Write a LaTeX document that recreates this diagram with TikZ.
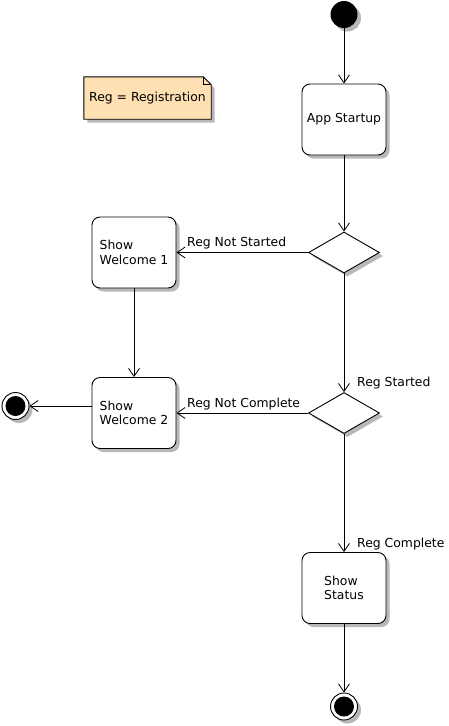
\documentclass[tikz,border=0pt]{standalone}
\usepackage{fontspec}
\setmainfont{DejaVu Sans}
\usetikzlibrary{arrows.meta,shapes.geometric,shadows}
\definecolor{notefill}{RGB}{254,224,178}
\tikzset{
  shad/.style={drop shadow={shadow xshift=3.5pt,shadow yshift=-3.5pt,fill=black!28,opacity=1}},
  txt/.style={font=\fontsize{12.4}{14.5}\selectfont},
  act/.style={draw,line width=0.9pt,rounded corners=8pt,fill=white,minimum width=84pt,minimum height=71pt,inner sep=0pt,align=left,txt,shad},
  dec/.style={draw,line width=0.9pt,diamond,aspect=1.73,minimum width=71pt,minimum height=41pt,inner sep=0pt,fill=white,shad},
  startst/.style={circle,fill=black,minimum size=27pt,inner sep=0pt,shad},
  endst/.style={circle,draw,line width=0.9pt,fill=white,minimum size=27pt,inner sep=0pt,shad,
     path picture={\fill[black] (path picture bounding box.center) circle (10pt);}},
  lbl/.style={anchor=base west,inner sep=0pt,txt},
  flow/.style={draw,line width=0.8pt,-{Straight Barb[length=8pt,width=11pt,line width=0.8pt]}},
}
\begin{document}
\begin{tikzpicture}[x=1pt,y=-1pt]
\useasboundingbox (0,0) rectangle (448,726);
% note
\node[inner sep=0pt,minimum width=127pt,minimum height=42pt] (note) at (147.5,98) {};
\fill[black!28] ([xshift=3.5pt,yshift=-3.5pt]note.north west) -- ([xshift=-4.5pt,yshift=-3.5pt]note.north east) -- ([xshift=3.5pt,yshift=-11.5pt]note.north east) -- ([xshift=3.5pt,yshift=-3.5pt]note.south east) -- ([xshift=3.5pt,yshift=-3.5pt]note.south west) -- cycle;
\filldraw[line width=0.9pt,fill=notefill] (note.north west) -- ([xshift=-8pt]note.north east) -- ([yshift=-8pt]note.north east) -- (note.south east) -- (note.south west) -- cycle;
\draw[line width=0.7pt] ([xshift=-8pt]note.north east) -- ([xshift=-8pt,yshift=-8pt]note.north east) -- ([yshift=-8pt]note.north east);
\node[inner sep=0pt,txt] (notetext) at (note.center) {Reg = Registration};

\node[startst] (start) at (344,14.5) {};
\node[act,align=center] (app) at (344,119.5) {App Startup};
\node[dec] (d1) at (344,252.5) {};
\node[act] (w1) at (134,252.5) {Show\\Welcome 1};
\node[dec] (d2) at (344,413) {};
\node[act] (w2) at (134,413) {Show\\Welcome 2};
\node[endst] (endL) at (15.5,406) {};
\node[act] (status) at (344,588) {Show\\Status};
\node[endst] (endB) at (344,706.5) {};

\draw[flow] (start) -- (app);
\draw[flow] (app) -- (d1);
\draw[flow] (d1.west) -- (w1.east);
\draw[flow] (w1) -- (w2);
\draw[flow] (d1.south) -- (d2.north);
\draw[flow] (d2.west) -- (w2.east);
\draw[flow] (endL -| w2.west) -- (endL.east);
\draw[flow] (d2.south) -- (status.north);
\draw[flow] (status) -- (endB);

\node[lbl] (l1) at (187,246) {Reg Not Started};
\node[lbl] (l2) at (357,386) {Reg Started};
\node[lbl] (l3) at (187,407) {Reg Not Complete};
\node[lbl] (l4) at (357,547) {Reg Complete};
\end{tikzpicture}
\end{document}
